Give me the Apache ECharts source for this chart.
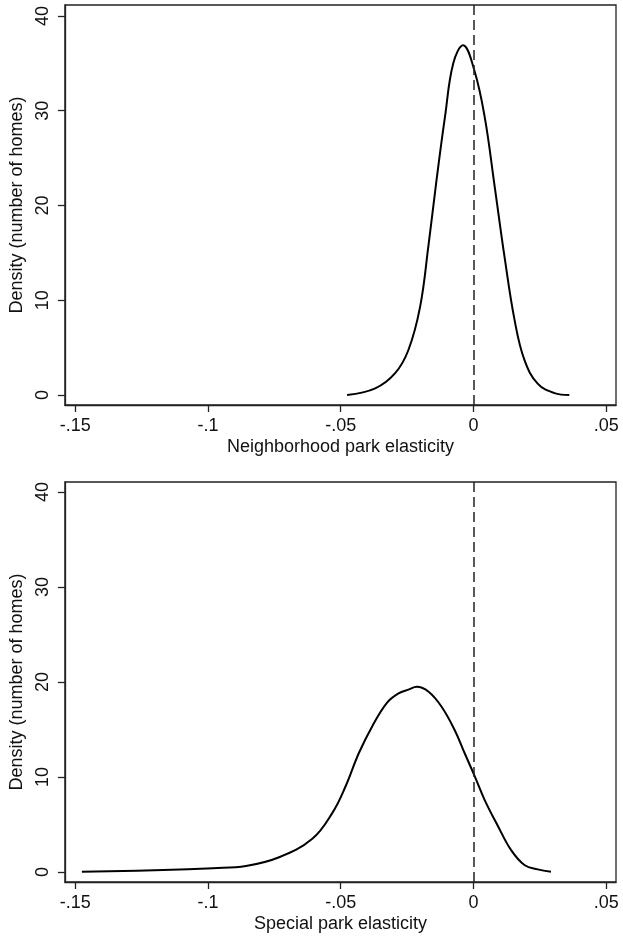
<!DOCTYPE html>
<html>
<head>
<meta charset="utf-8">
<script src="https://cdn.jsdelivr.net/npm/echarts@6/dist/echarts.min.js"></script>
<style>
  html, body { margin: 0; padding: 0; background: #fff; }
  #chart { width: 623px; height: 937px; }
</style>
</head>
<body>
<div id="chart"></div>
<script>
// 資料：密度曲線點
const xTicks = [-0.15, -0.1, -0.05, 0, 0.05];
const yTicks = [0, 10, 20, 30, 40];

const hoodX = [-0.0476, -0.037, -0.0295, -0.0245, -0.0201, -0.017, -0.0139, -0.0107, -0.0076, -0.0039,
  0.0003, 0.0042, 0.008, 0.0117, 0.0155, 0.0192, 0.0242, 0.0305, 0.0361];
const hoodY = [0.0, 0.7, 2.3, 4.75, 9.3, 15.65, 22.7, 29.4, 35.0, 36.9,
  34.3, 29.4, 22.0, 14.6, 7.9, 3.7, 1.2, 0.2, 0.0];

const specialX = [-0.1475, -0.1169, -0.0981, -0.0857, -0.0732, -0.0607, -0.0532, -0.0482, -0.0432, -0.0382,
  -0.0326, -0.0282, -0.0245, -0.0213, -0.017, -0.012, -0.007, -0.0033, 0.0003, 0.0042,
  0.0093, 0.0142, 0.0192, 0.0242, 0.0292];
const specialY = [0.03, 0.2, 0.4, 0.63, 1.55, 3.5, 6.2, 9.0, 12.5, 15.3,
  17.8, 18.8, 19.2, 19.5, 19.0, 17.4, 14.9, 12.5, 10.2, 7.6,
  4.8, 2.3, 0.74, 0.28, 0.03];

const names = ['Neighborhood park elasticity', 'Special park elasticity'];

const font = "'Liberation Sans', Arial, Helvetica, sans-serif";
const ink = '#111';
const fs = 18;

const zip = (xs, ys) => xs.map((x, i) => [x, ys[i]]);

const fmtX = (v) => {
  if (Math.abs(v) < 1e-9) return '0';
  return String(+v.toFixed(2)).replace('0.', '.');
};

const makeX = (idx) => ({
  type: 'value',
  gridIndex: idx,
  min: -0.1539,
  max: 0.0537,
  name: names[idx],
  nameLocation: 'middle',
  nameGap: 33,
  nameTextStyle: { fontFamily: font, fontSize: fs, color: ink },
  axisLine: { show: true, onZero: false, lineStyle: { color: '#222', width: 1.3 } },
  axisTick: { show: true, length: 7, customValues: xTicks, lineStyle: { color: '#222', width: 1.3 } },
  axisLabel: { customValues: xTicks, margin: 12, fontFamily: font, fontSize: fs, color: ink, formatter: fmtX },
  splitLine: { show: false },
});

const makeY = (idx, min, max) => ({
  type: 'value',
  gridIndex: idx,
  min: min,
  max: max,
  name: 'Density (number of homes)',
  nameLocation: 'middle',
  nameGap: 35,
  nameTextStyle: { fontFamily: font, fontSize: fs, color: ink },
  axisLine: { show: true, onZero: false, lineStyle: { color: '#222', width: 1.3 } },
  axisTick: { show: true, length: 7, customValues: yTicks, lineStyle: { color: '#222', width: 1.3 } },
  axisLabel: { customValues: yTicks, rotate: 90, margin: 13, fontFamily: font, fontSize: fs, color: ink },
  splitLine: { show: false },
});

const makeSeries = (idx, xs, ys) => ({
  type: 'line',
  xAxisIndex: idx,
  yAxisIndex: idx,
  data: zip(xs, ys),
  smooth: 0.4,
  showSymbol: false,
  lineStyle: { color: '#000', width: 2 },
  silent: true,
  markLine: {
    silent: true,
    symbol: 'none',
    label: { show: false },
    lineStyle: { color: '#222', width: 1.5, type: [10, 5] },
    data: [{ xAxis: 0 }],
  },
});

const chart = echarts.init(document.getElementById('chart'), null, { renderer: 'canvas' });

chart.setOption({
  backgroundColor: '#fff',
  animation: false,
  grid: [
    { left: 61, right: 7, top: 5, height: 400, show: true, borderColor: '#222', borderWidth: 1.3 },
    { left: 61, right: 7, top: 482, height: 400, show: true, borderColor: '#222', borderWidth: 1.3 },
  ],
  xAxis: [makeX(0), makeX(1)],
  yAxis: [makeY(0, -1.055, 41.16), makeY(1, -1.05, 41.05)],
  series: [
    makeSeries(0, hoodX, hoodY),
    makeSeries(1, specialX, specialY),
  ],
});
</script>
</body>
</html>
